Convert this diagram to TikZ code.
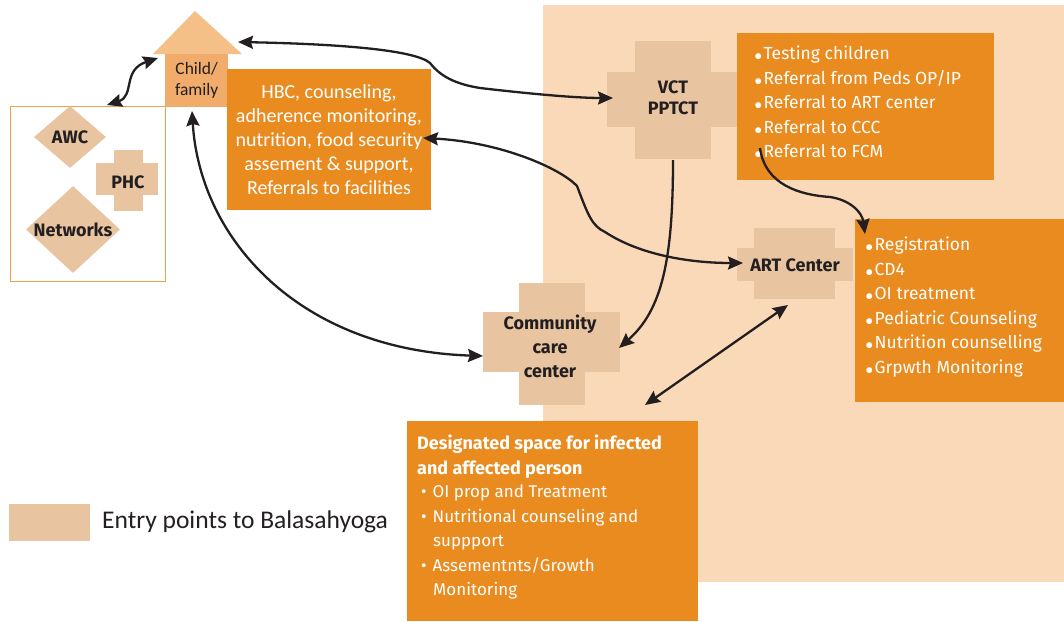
\documentclass[tikz,border=0pt]{standalone}
\usepackage{fontspec}
\setmainfont{Fira Sans}
\newfontfamily\carl{Carlito}
\usetikzlibrary{arrows.meta,shapes.geometric,calc}
\definecolor{bgpeach}{HTML}{F9D9B8}
\definecolor{entry}{HTML}{E8C4A1}
\definecolor{orangebox}{HTML}{E98B1F}
\definecolor{housetri}{HTML}{F5BF88}
\definecolor{housebody}{HTML}{F1AC6C}
\definecolor{outline}{HTML}{F0A04B}
\definecolor{ink}{HTML}{231F20}
\newcommand\bdot{\raisebox{-6pt}{\fontsize{26}{0}\selectfont•}\hspace{1pt}}
\tikzset{
 obox/.style={fill=orangebox, draw=none, inner sep=0, anchor=north west},
 wtext/.style={text=white, inner sep=0, anchor=north west, align=left, font=\fontsize{17.5}{24.5}\selectfont},
 lbl/.style={text=ink, font=\bfseries\fontsize{18}{21}\selectfont, align=center, inner sep=0},
 conn/.style={draw=ink, line width=2.3pt, -{Stealth[length=15pt,width=13pt,inset=2pt]}},
 dconn/.style={draw=ink, line width=2.3pt, {Stealth[length=15pt,width=13pt,inset=2pt]}-{Stealth[length=15pt,width=13pt,inset=2pt]}},
 entrybox/.style={fill=entry, draw=none, inner sep=0},
}
\begin{document}
\begin{tikzpicture}[x=1pt,y=-1pt]
\useasboundingbox (0,0) rectangle (1064,621);
% background zone
\fill[bgpeach] (543,5) rectangle (1064,582);

% legend
\node[entrybox, minimum width=81, minimum height=37, anchor=north west] (leg) at (9,504) {};
\node[anchor=west, inner sep=0, text=ink, font=\carl\fontsize{25.5}{28}\selectfont] (legtext) at (102,522) {Entry points to Balasahyoga};

% house (child/family)
\fill[housetri] (153,54) -- (195,11) -- (242,54) -- cycle;
\node[fill=housebody, minimum width=63, minimum height=53, inner sep=0, anchor=north west] (child) at (165,54) {};
\node[text=ink, align=center, inner sep=0, font=\carl\fontsize{17.5}{21}\selectfont] (childtext) at (child.center) {Child/\\family};
\coordinate (houseR) at (238,42);
\coordinate (childB) at (192,111);
\coordinate (childL) at (158,58);

% left group box
\node[draw=outline, line width=1.2pt, minimum width=155, minimum height=175, inner sep=0, anchor=north west] (lbox) at (10,106) {};
\coordinate (lboxT) at (107,105);
\node[diamond, entrybox, minimum width=72, minimum height=62] (awc) at (70,137) {};
\node[lbl] (awctext) at (awc.center) {AWC};
\fill[entry] (114,150) rectangle (143,211);
\fill[entry] (96,163) rectangle (158,195);
\node[lbl] (phc) at (128,182) {PHC};
\node[diamond, entrybox, minimum width=94, minimum height=87] (net) at (73,229.5) {};
\node[lbl] (nettext) at (net.center) {Networks};

% HBC box
\node[obox, minimum width=204, minimum height=141] (hbc) at (227,69) {};
\node[text=white, align=center, inner sep=0, font=\carl\fontsize{20}{24}\selectfont] (hbctext) at (329,140) {HBC, counseling,\\adherence monitoring,\\nutrition, food security\\assement \& support,\\Referrals to facilities};
\coordinate (hbcR) at (423,138);

% VCT cross
\fill[entry] (635,41) rectangle (711,159);
\fill[entry] (607,72) rectangle (739,127);
\node[lbl] (vct) at (673,98) {VCT\\PPTCT};
\coordinate (vctL) at (613,98);
\coordinate (vctB) at (673,160);

% top-right list
\node[obox, minimum width=257, minimum height=147] (vctbox) at (737,33) {};
\node[wtext] (vctlist) at (754,46) {\bdot Testing children\\\bdot Referral from Peds OP/IP\\\bdot Referral to ART center\\\bdot Referral to CCC\\\bdot Referral to FCM};
\coordinate (fcm) at (760,148);

% ART cross
\fill[entry] (754,228) rectangle (835,299);
\fill[entry] (737,248) rectangle (853,281);
\node[lbl] (art) at (795,265) {ART Center};
\coordinate (artL) at (743,263);
\coordinate (artB) at (788,305);

% right list
\node[obox, minimum width=209, minimum height=183] (artbox) at (855,219) {};
\node[wtext] (artlist) at (865,237) {\bdot Registration\\\bdot CD4\\\bdot OI treatment\\\bdot Pediatric Counseling\\\bdot Nutrition counselling\\\bdot Grpwth Monitoring};
\coordinate (artboxT) at (865,234);

% CCC cross
\fill[entry] (519,283) rectangle (585,405);
\fill[entry] (483,312) rectangle (620,372);
\node[lbl, font=\bfseries\fontsize{18}{24}\selectfont] (ccc) at (550,346) {Community\\care\\center};
\coordinate (cccL) at (483,356);
\coordinate (cccR) at (619,348);

% designated box
\node[obox, minimum width=291, minimum height=200] (desig) at (407,421) {};
\node[wtext] (desigtitle) at (417,435) {\bfseries\fontsize{18}{26}\selectfont Designated space for infected\\\bfseries\fontsize{18}{26}\selectfont and affected person};
\node[wtext, font=\fontsize{17}{24.5}\selectfont] (desiglist) at (421,485) {•\hspace{6pt}OI prop and Treatment\\•\hspace{6pt}Nutritional counseling and\\\hspace{12pt}suppport\\•\hspace{6pt}Assementnts/Growth\\\hspace{12pt}Monitoring};
\coordinate (desigT) at (645,405);

% connectors
\draw[dconn] (houseR) .. controls (340,44) and (415,50) .. (430,63) .. controls (440,76) and (455,84) .. (480,88) .. controls (540,95) and (580,98) .. (vctL);
\draw[dconn] (hbcR) .. controls (500,142) and (560,168) .. (577,186) .. controls (588,215) and (592,226) .. (605,232) .. controls (640,255) and (690,263) .. (artL);
\draw[dconn] (childB) .. controls (200,240) and (300,350) .. (cccL);
\draw[conn] (vctB) .. controls (673,260) and (662,310) .. (cccR);
\draw[conn] (fcm) .. controls (765,185) and (800,195) .. (830,197) .. controls (850,200) and (862,212) .. (artboxT);
\draw[dconn] (artB) -- (desigT);
\draw[dconn] (lboxT) .. controls (135,96) and (122,70) .. (childL);
\end{tikzpicture}
\end{document}
